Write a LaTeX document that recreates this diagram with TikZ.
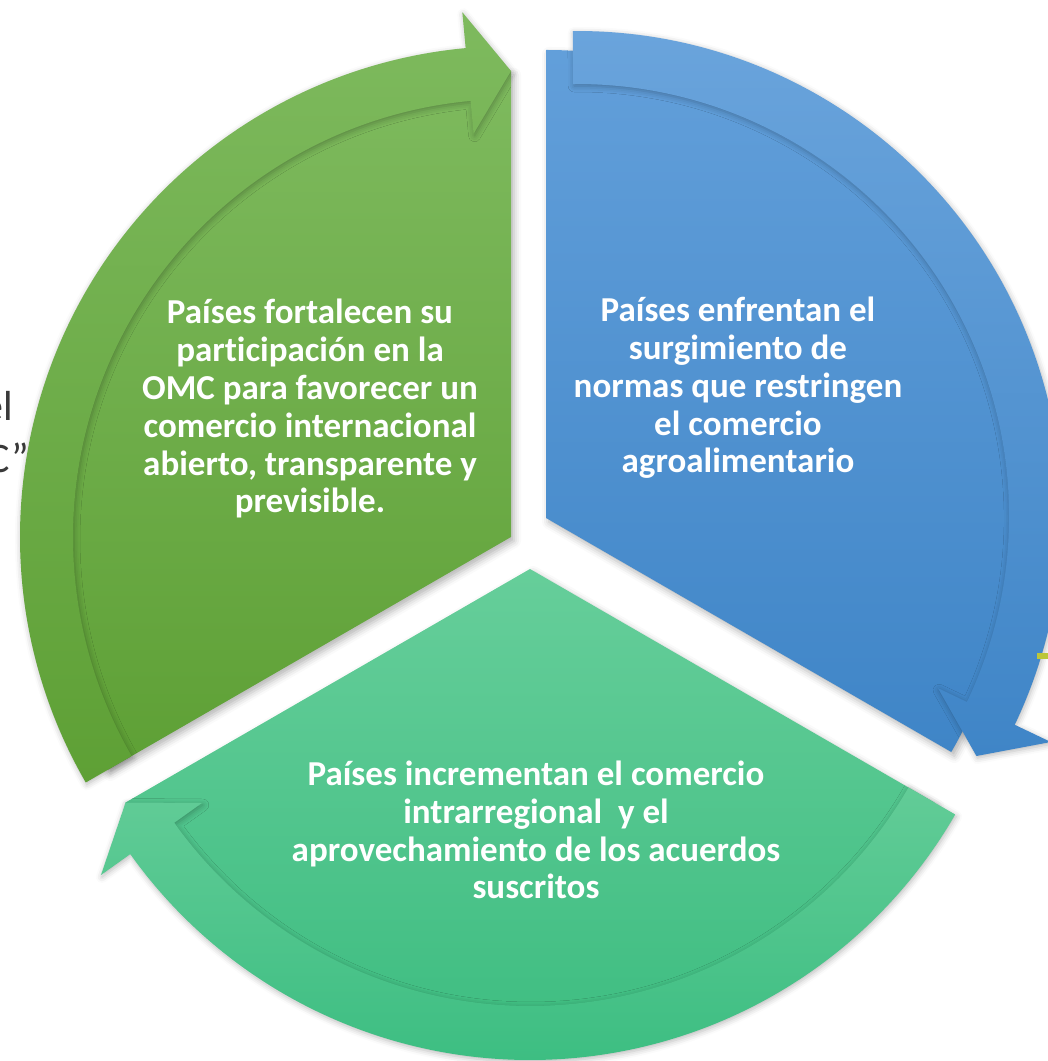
\documentclass[tikz,border=0pt]{standalone}
\usepackage{fontspec}
\setmainfont[Ligatures=NoCommon]{Carlito}
\usetikzlibrary{shadows.blur}
\definecolor{gTop}{HTML}{7EBA5E}
\definecolor{gBot}{HTML}{5EA035}
\definecolor{bTop}{HTML}{6AA4DC}
\definecolor{bBot}{HTML}{3F85C7}
\definecolor{bwTop}{HTML}{629FDA}
\definecolor{mTop}{HTML}{66CE9A}
\definecolor{mBot}{HTML}{39BB7E}
\definecolor{mbTop}{HTML}{62CC97}
\definecolor{mbBot}{HTML}{3DBE82}
\definecolor{bgtxt}{HTML}{3A3A3A}
\definecolor{markcol}{HTML}{BCC63A}
\tikzset{
  wedgeshadow/.style={blur shadow={shadow xshift=3pt,shadow yshift=-4pt,shadow blur radius=7pt,shadow opacity=30}},
  bandshadow/.style={blur shadow={shadow xshift=1pt,shadow yshift=-2pt,shadow blur radius=6pt,shadow opacity=28}},
  lbl/.style={text=white,font=\bfseries\fontsize{35}{37.8}\selectfont,align=center,inner sep=0pt},
  bgtext/.style={text=bgtxt,font=\fontsize{42}{52}\selectfont,inner sep=0pt}
}
\begin{document}
\begin{tikzpicture}[x=1pt,y=1pt]
\useasboundingbox (0,0) rectangle (1048,1061);
\clip (0,0) rectangle (1048,1061);

% background text fragments
\node[bgtext,anchor=base east] (t1) at (13,640) {el};
\node[bgtext,anchor=base east] (t2) at (29,588) {C”};

% green sector
\begin{scope}[shift={(511,524)}]
\shade[wedgeshadow,top color=gTop,bottom color=gBot]
  (0,0) -- (210:466) arc[start angle=210,end angle=90,radius=466pt] -- cycle;
\shade[bandshadow,top color=gTop,bottom color=gBot]
  (210:491) arc[start angle=210,end angle=95.3,radius=491pt]
  -- (95.3:527) -- (90:466) -- (95.3:405) -- (95.3:438)
  arc[start angle=95.3,end angle=210,radius=438pt] -- cycle;
\end{scope}

% blue sector
\begin{scope}[shift={(546,543)}]
\shade[wedgeshadow,top color=bwTop,bottom color=bBot]
  (0,0) -- (-30:468) arc[start angle=-30,end angle=90,radius=468pt] -- cycle;
\end{scope}
\begin{scope}[shift={(577,545)}]
\shade[bandshadow,top color=bTop,bottom color=bBot]
  (90.5:485) arc[start angle=90.5,end angle=-25.5,radius=485pt]
  -- (-25.5:525) -- (-31:466) -- (-25.5:400) -- (-25.5:432)
  arc[start angle=-25.5,end angle=90.5,radius=432pt] -- cycle;
\end{scope}

% bottom sector
\begin{scope}[shift={(530,492)}]
\shade[wedgeshadow,top color=mTop,bottom color=mBot]
  (0,0) -- (330:467) arc[start angle=330,end angle=210,radius=467pt] -- cycle;
\shade[bandshadow,top color=mbTop,bottom color=mbBot]
  (330:491) arc[start angle=330,end angle=215.5,radius=491pt]
  -- (215.5:527) -- (210:467) -- (215.5:403) -- (215.5:437)
  arc[start angle=215.5,end angle=330,radius=437pt] -- cycle;
\end{scope}

% labels (anchor base = baseline of last line)
\node[lbl,anchor=base] (gtext) at (310,548) {Países fortalecen su\\participación en la\\OMC para favorecer un\\comercio internacional\\abierto, transparente y\\previsible.};
\node[lbl,anchor=base] (btext) at (738,588) {Países enfrentan el\\surgimiento de\\normas que restringen\\el comercio\\agroalimentario};
\node[lbl,anchor=base] (mtext) at (536,162) {Países incrementan el comercio\\intrarregional~ y el\\aprovechamiento de los acuerdos\\suscritos};

% small fragment at right edge
\fill[fill=markcol] (1037,402) rectangle (1048,408);
\end{tikzpicture}
\end{document}
